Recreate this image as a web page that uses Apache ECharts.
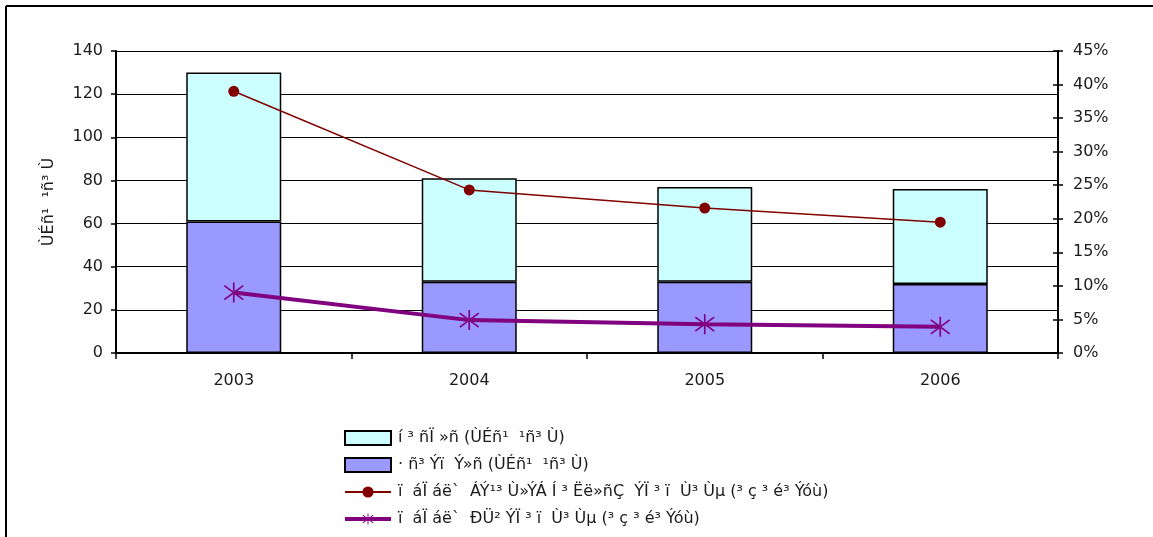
<!DOCTYPE html>
<html>
<head>
<meta charset="utf-8">
<script src="https://cdn.jsdelivr.net/npm/echarts@6/dist/echarts.min.js"></script>
<style>
html,body{margin:0;padding:0;background:#fff;}
#chart{width:1153px;height:537px;}
</style>
</head>
<body>
<div id="chart"></div>
<script>
const categories = ['2003', '2004', '2005', '2006'];
const loansName = 'í ³ ñÏ »ñ (ÙÉñ¹  ¹ñ³ Ù)';
const grantsName = '· ñ³ Ýï  Ý»ñ (ÙÉñ¹  ¹ñ³ Ù)';
const pctTotalName = 'ï  áÏ áë`  ÁÝ¹³ Ù»ÝÁ Í ³ Ëë»ñÇ  ÝÏ ³ ï  Ù³ Ùµ (³ ç ³ é³ Ýóù)';
const pctGdpName = 'ï  áÏ áë`  ÐÜ² ÝÏ ³ ï  Ù³ Ùµ (³ ç ³ é³ Ýóù)';
const yAxisName = 'ÙÉñ¹  ¹ñ³ Ù';
const grants = [61, 33, 33, 32];
const loans = [69, 48, 44, 44];
const pctTotal = [39.0, 24.3, 21.6, 19.5];
const pctGdp = [9.0, 4.9, 4.3, 3.9];

const FONT = 'DejaVu Sans';
const TXT = '#1a1a1a';
const star = 'path://M9.2,0 L10.8,0 L10.8,20 L9.2,20 Z M0.51,3.63 L18.51,17.63 L19.49,16.37 L1.49,2.37 Z M1.49,17.63 L19.49,3.63 L18.51,2.37 L0.51,16.37 Z';

const chart = echarts.init(document.getElementById('chart'));
chart.setOption({
  animation: false,
  textStyle: {fontFamily: FONT},
  grid: {left: 116, top: 51, right: 95, height: 302, containLabel: false},
  graphic: [
    {type: 'line', shape: {x1: 6, y1: 6, x2: 1153, y2: 6}, style: {stroke: '#000', lineWidth: 2}},
    {type: 'line', shape: {x1: 6, y1: 6, x2: 6, y2: 537}, style: {stroke: '#000', lineWidth: 2}}
  ],
  legend: {
    orient: 'vertical',
    left: 338,
    top: 425,
    itemWidth: 46,
    itemHeight: 14,
    itemGap: 11,
    data: [
      {name: loansName, icon: 'rect', itemStyle: {color: '#CCFFFF', borderColor: '#000', borderWidth: 2}},
      {name: grantsName, icon: 'rect', itemStyle: {color: '#9999FF', borderColor: '#000', borderWidth: 2}},
      {name: pctTotalName, lineStyle: {color: '#800000', width: 2}},
      {name: pctGdpName, lineStyle: {color: '#800080', width: 4}}
    ],
    textStyle: {fontFamily: FONT, fontSize: 16, color: TXT, padding: [0, 0, 0, 2]}
  },
  xAxis: {
    type: 'category',
    data: categories,
    boundaryGap: true,
    axisLine: {lineStyle: {color: '#000', width: 2}},
    axisTick: {show: true, length: 6, lineStyle: {color: '#000', width: 1.5}},
    axisLabel: {fontFamily: FONT, fontSize: 16, color: TXT, margin: 20}
  },
  yAxis: [
    {
      type: 'value', min: 0, max: 140, interval: 20,
      name: yAxisName, nameLocation: 'middle', nameGap: 59, nameRotate: 90,
      nameTextStyle: {fontFamily: FONT, fontSize: 16, color: TXT},
      axisLine: {show: true, lineStyle: {color: '#000', width: 2}},
      axisTick: {show: true, length: 5, lineStyle: {color: '#000', width: 1.5}},
      axisLabel: {fontFamily: FONT, fontSize: 16, color: TXT, margin: 13},
      splitLine: {show: true, lineStyle: {color: '#000', width: 1}}
    },
    {
      type: 'value', min: 0, max: 45, interval: 5, position: 'right',
      axisLine: {show: true, lineStyle: {color: '#000', width: 2}},
      axisTick: {show: true, length: 5, lineStyle: {color: '#000', width: 1.5}},
      axisLabel: {fontFamily: FONT, fontSize: 16, color: TXT, margin: 15, formatter: '{value}%'},
      splitLine: {show: false}
    },
    {
      type: 'value', min: 0, max: 45, interval: 5, position: 'right',
      axisLine: {show: false},
      axisTick: {show: true, inside: true, length: 5, lineStyle: {color: '#000', width: 1.5}},
      axisLabel: {show: false},
      splitLine: {show: false}
    }
  ],
  series: [
    {
      name: grantsName, type: 'bar', stack: 'total', data: grants, barWidth: 95,
      itemStyle: {color: '#9999FF', borderColor: '#000', borderWidth: 1.5}
    },
    {
      name: loansName, type: 'bar', stack: 'total', data: loans, barWidth: 95,
      itemStyle: {color: '#CCFFFF', borderColor: '#000', borderWidth: 1.5}
    },
    {
      name: pctTotalName, type: 'line', yAxisIndex: 1, data: pctTotal,
      symbol: 'circle', symbolSize: 11,
      lineStyle: {color: '#800000', width: 1.5},
      itemStyle: {color: '#800000'}
    },
    {
      name: pctGdpName, type: 'line', yAxisIndex: 1, data: pctGdp,
      symbol: star, symbolSize: 20,
      lineStyle: {color: '#800080', width: 4},
      itemStyle: {color: '#800080'}
    }
  ]
});
</script>
</body>
</html>
